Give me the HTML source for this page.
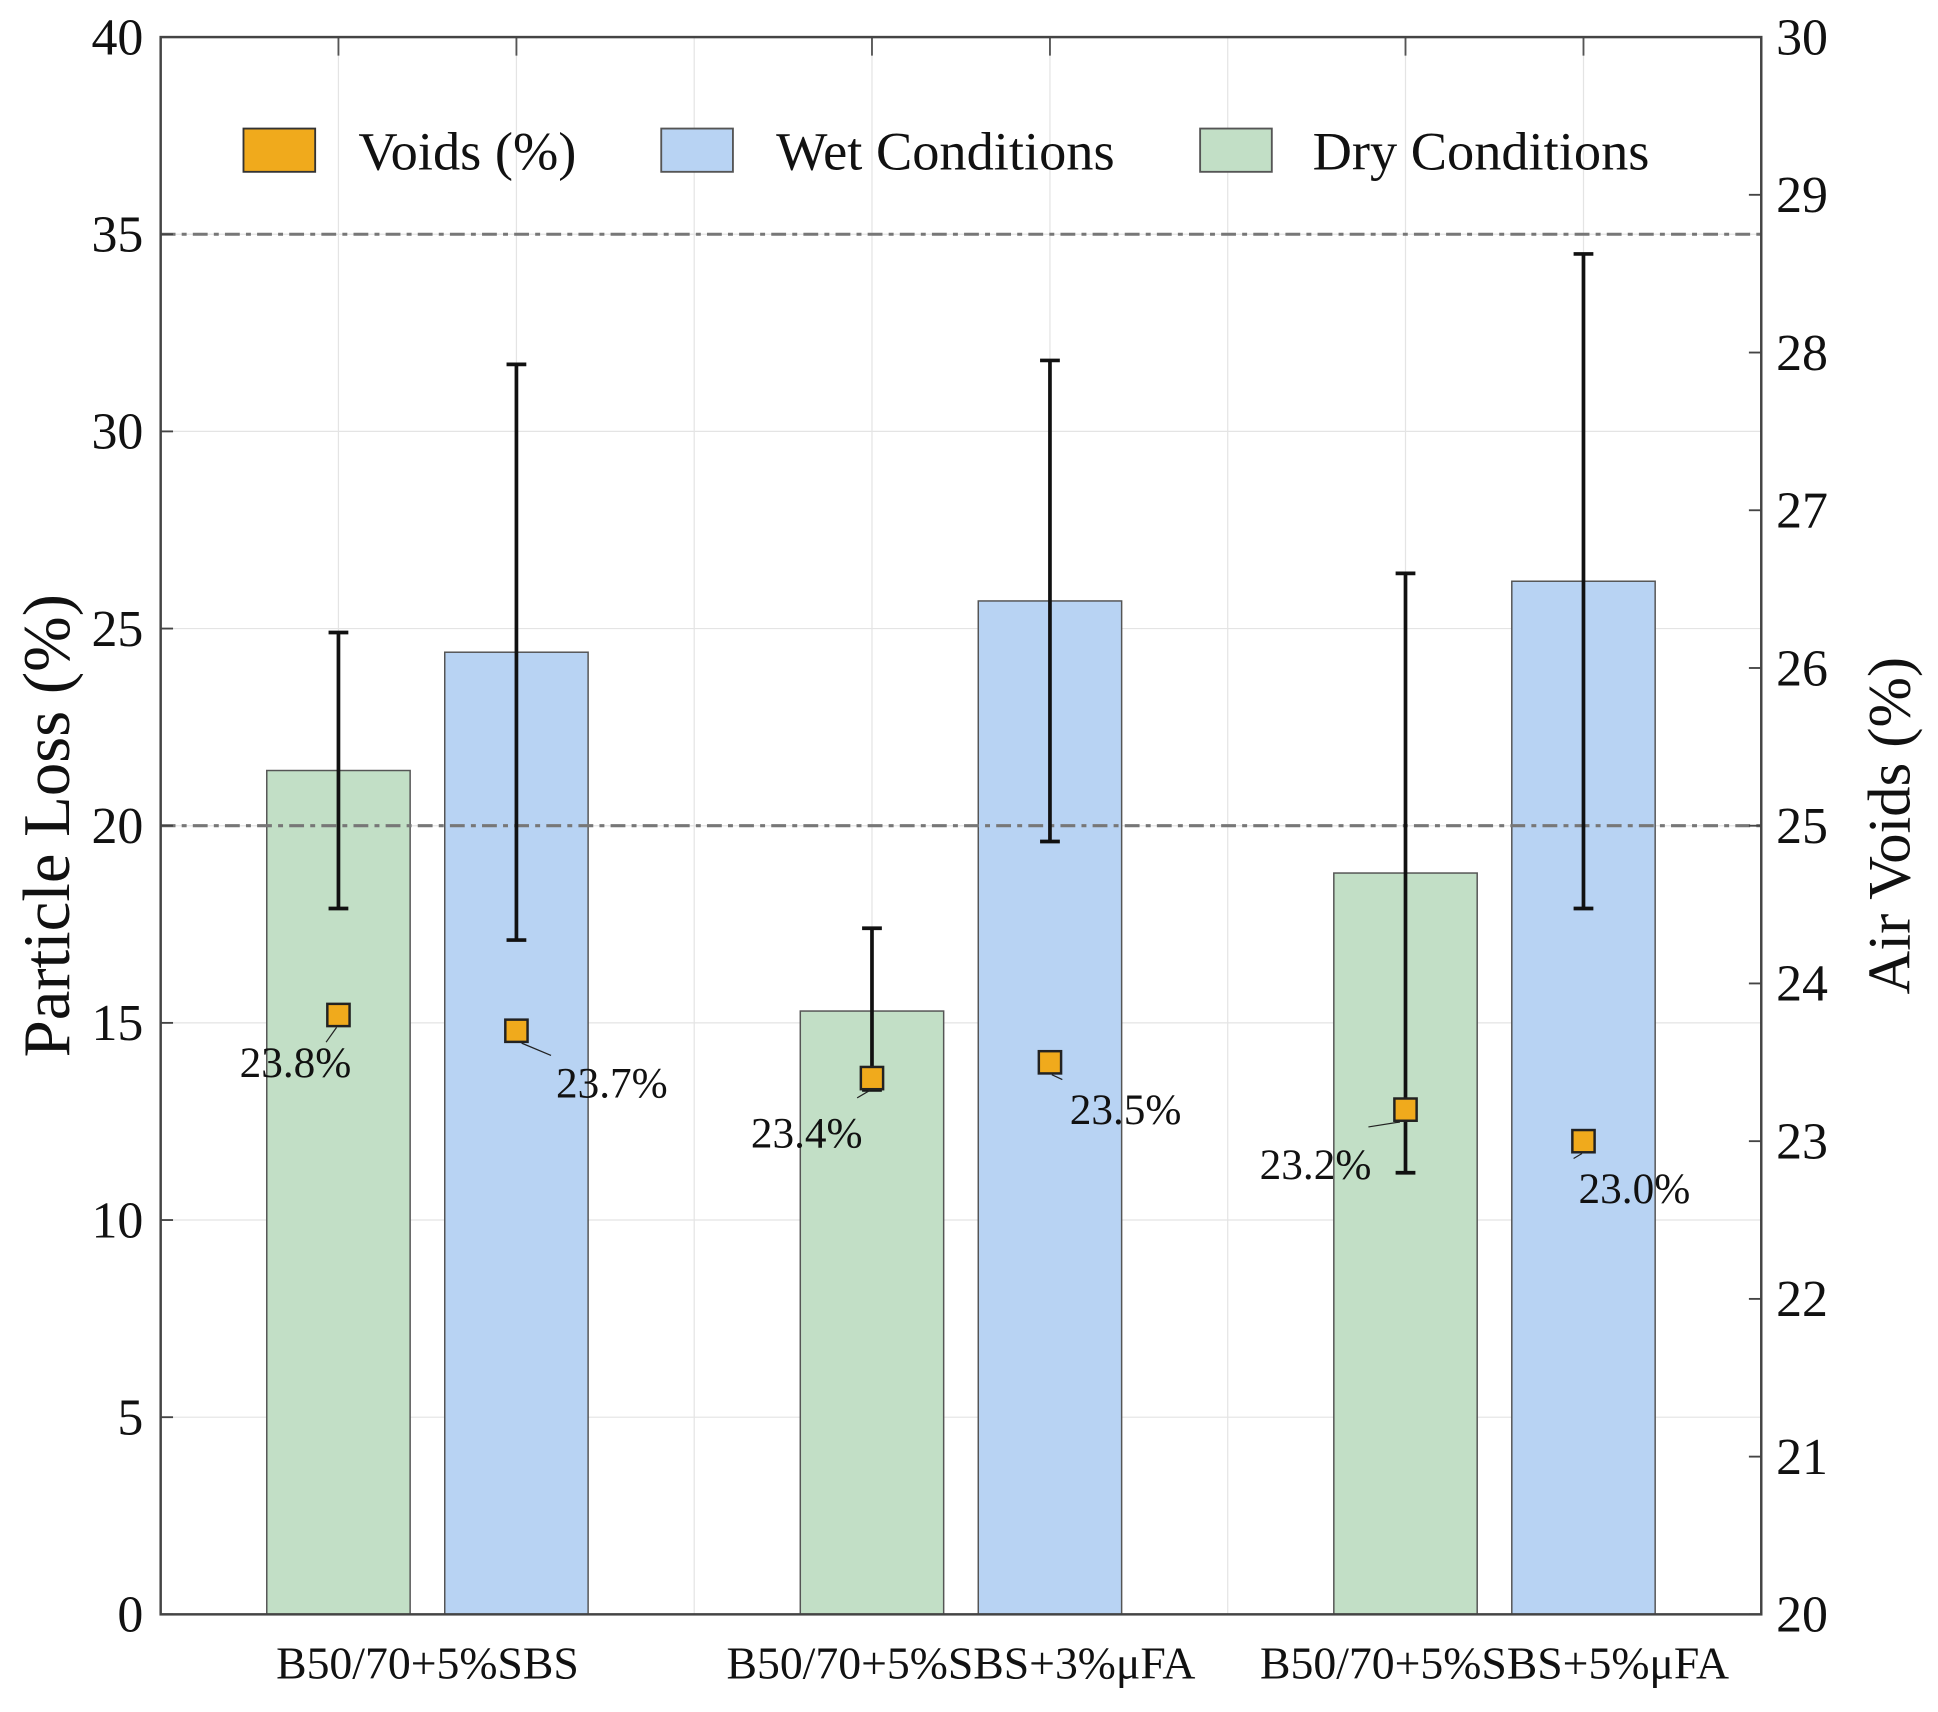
<!DOCTYPE html>
<html><head><meta charset="utf-8"><style>html,body{margin:0;padding:0;background:#fff}svg{display:block}text{font-family:"Liberation Serif",serif;fill:#111}</style></head>
<body>
<svg id="chart" width="1938" height="1712" viewBox="0 0 1568 1385" preserveAspectRatio="none" xmlns="http://www.w3.org/2000/svg"></svg>
<script>
const categories = ["B50/70+5%SBS", "B50/70+5%SBS+3%\u03bcFA", "B50/70+5%SBS+5%\u03bcFA"];
const dryValues = [21.4, 15.3, 18.8];
const wetValues = [24.4, 25.7, 26.2];
const dryErrLow = [17.9, 13.3, 11.2];
const dryErrHigh = [24.9, 17.4, 26.4];
const wetErrLow = [17.1, 19.6, 17.9];
const wetErrHigh = [31.7, 31.8, 34.5];
const dryVoids = [23.8, 23.4, 23.2];
const wetVoids = [23.7, 23.5, 23.0];
const leftTicks = [0, 5, 10, 15, 20, 25, 30, 35, 40];
const rightTicks = [20, 21, 22, 23, 24, 25, 26, 27, 28, 29, 30];
const refLines = [20, 35];

const svg = document.getElementById('chart');
const NS = 'http://www.w3.org/2000/svg';
const L = 130, R = 1425, T = 30, B = 1306;
const yL = v => B - (v / 40) * (B - T);
const yR = v => B - ((v - 20) / 10) * (B - T);
const groupW = (R - L) / categories.length;
const xC = i => L + groupW * (i + 0.5);
const off = 72, bw = 116;
function mk(tag, attrs, parent) {
  const e = document.createElementNS(NS, tag);
  for (const k in attrs) e.setAttribute(k, attrs[k]);
  (parent || svg).appendChild(e);
  return e;
}
function txt(s, attrs) { const t = mk('text', attrs); t.textContent = s; return t; }

leftTicks.forEach(v => {
  const g = mk('line', {x1: L, x2: R, y1: yL(v), y2: yL(v), stroke: '#e4e4e4', 'stroke-width': 1});
  
  
});
categories.forEach((c, i) => {
  [-off, off].forEach(d => {
    const g = mk('line', {x1: xC(i) + d, x2: xC(i) + d, y1: T, y2: B, stroke: '#e4e4e4', 'stroke-width': 1});
    
    
    mk('line', {x1: xC(i) + d, x2: xC(i) + d, y1: T, y2: T + 15, stroke: '#555', 'stroke-width': 1.5});
  });
  if (i > 0) {
    const g = mk('line', {x1: L + groupW * i, x2: L + groupW * i, y1: T, y2: B, stroke: '#e4e4e4', 'stroke-width': 1});
    
    
  }
});

categories.forEach((c, i) => {
  const d = mk('rect', {x: xC(i) - off - bw / 2, y: yL(dryValues[i]), width: bw, height: B - yL(dryValues[i]), fill: '#c2dfc6', stroke: '#555', 'stroke-width': 1.2});
  
  
  const w = mk('rect', {x: xC(i) + off - bw / 2, y: yL(wetValues[i]), width: bw, height: B - yL(wetValues[i]), fill: '#b8d3f3', stroke: '#555', 'stroke-width': 1.2});
  
  
});

refLines.forEach(v => {
  const l = mk('line', {x1: L, x2: R, y1: yL(v), y2: yL(v), stroke: '#777', 'stroke-width': 2.5, 'stroke-dasharray': '12 5 4 5'});
  
  
});

function errbar(x, lo, hi, name) {
  const g = mk('g', {});
  
  
  mk('line', {x1: x, x2: x, y1: yL(lo), y2: yL(hi), stroke: '#111', 'stroke-width': 3}, g);
  mk('line', {x1: x - 8, x2: x + 8, y1: yL(lo), y2: yL(lo), stroke: '#111', 'stroke-width': 3}, g);
  mk('line', {x1: x - 8, x2: x + 8, y1: yL(hi), y2: yL(hi), stroke: '#111', 'stroke-width': 3}, g);
}
categories.forEach((c, i) => {
  errbar(xC(i) - off, dryErrLow[i], dryErrHigh[i], 'errorbar-dry-' + (i + 1));
  errbar(xC(i) + off, wetErrLow[i], wetErrHigh[i], 'errorbar-wet-' + (i + 1));
});

const labelOff = [[-80, 50, -10, 22], [32, 54, 28, 20], [-98, 56, -12, 16], [16, 50, 10, 14], [-118, 56, -30, 14], [-4, 50, -8, 14]];
categories.forEach((c, i) => {
  [[xC(i) - off, dryVoids[i], 'dry'], [xC(i) + off, wetVoids[i], 'wet']].forEach((p, j) => {
    const k = i * 2 + j, o = labelOff[k];
    const x = p[0], y = yR(p[1]);
    mk('line', {x1: x + o[2] * 0.15, y1: y + 10, x2: x + o[2], y2: y + o[3], stroke: '#222', 'stroke-width': 1});
    const m = mk('rect', {x: x - 9, y: y - 9, width: 18, height: 18, fill: '#f0aa1c', stroke: '#222', 'stroke-width': 2});
    
    
    const t = txt(p[1].toFixed(1) + '%', {x: x + o[0], y: y + o[1], 'font-size': 35});
    
    
  });
});

const frame = mk('rect', {x: L, y: T, width: R - L, height: B - T, fill: 'none', stroke: '#444', 'stroke-width': 2});



leftTicks.forEach(v => {
  mk('line', {x1: L, x2: L + 10, y1: yL(v), y2: yL(v), stroke: '#444', 'stroke-width': 1.5});
  const t = txt(String(v), {x: L - 14, y: yL(v) + 14, 'font-size': 42, 'text-anchor': 'end'});
  
  
});
rightTicks.forEach(v => {
  mk('line', {x1: R - 10, x2: R, y1: yR(v), y2: yR(v), stroke: '#444', 'stroke-width': 1.5});
  const t = txt(String(v), {x: R + 12, y: yR(v) + 14, 'font-size': 42});
  
  
});
categories.forEach((c, i) => {
  const t = txt(c, {x: xC(i), y: B + 52, 'font-size': 37, 'text-anchor': 'middle'});
  
  
});

const yt = txt('Particle Loss (%)', {x: 0, y: 0, 'font-size': 54, 'text-anchor': 'middle', transform: 'translate(56,' + ((T + B) / 2) + ') rotate(-90)'});


const yt2 = txt('Air Voids (%)', {x: 0, y: 0, 'font-size': 49, 'text-anchor': 'middle', transform: 'translate(1545,' + ((T + B) / 2) + ') rotate(-90)'});



const legend = [['Voids (%)', '#f0aa1c', '#333', 197, 290], ['Wet Conditions', '#b8d3f3', '#555', 535, 628], ['Dry Conditions', '#c2dfc6', '#555', 971, 1062]];
legend.forEach(l => {
  const g = mk('g', {});
  
  
  mk('rect', {x: l[3], y: 104, width: 58, height: 35, fill: l[1], stroke: l[2], 'stroke-width': 1.5}, g);
  const t = mk('text', {x: l[4], y: 137, 'font-size': 44}, g);
  t.textContent = l[0];
});
</script>
</body></html>
